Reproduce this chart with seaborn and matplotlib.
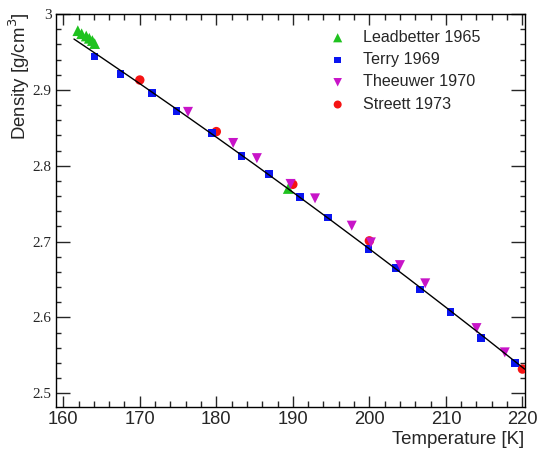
import numpy as np
import pandas as pd
import matplotlib
matplotlib.use("Agg")
import matplotlib.pyplot as plt
import seaborn as sns
from matplotlib.ticker import MultipleLocator, FixedLocator, FixedFormatter

# ---- data ----
lead_T = [161.9, 162.4, 163.0, 163.4, 163.8, 164.1, 189.4]
lead_rho = [2.978, 2.974, 2.971, 2.968, 2.965, 2.961, 2.770]

terry_T = [164.1, 167.5, 171.6, 174.8, 179.4, 183.3, 186.9, 190.9, 194.6,
           199.9, 203.5, 206.6, 210.6, 214.6, 219.0]
terry_rho = [2.944, 2.921, 2.896, 2.872, 2.843, 2.813, 2.789, 2.759, 2.732,
             2.690, 2.665, 2.637, 2.607, 2.573, 2.540]

theeuwer_T = [176.3, 182.2, 185.3, 189.7, 192.9, 197.7, 200.2, 204.0, 207.3,
              214.0, 217.7]
theeuwer_rho = [2.871, 2.830, 2.810, 2.776, 2.757, 2.721, 2.699, 2.669, 2.645,
                2.586, 2.554]

streett_T = [170.0, 180.0, 190.0, 200.0, 220.0]
streett_rho = [2.913, 2.845, 2.7755, 2.701, 2.532]

curve_T = [161.4, 165, 170, 175, 180, 185, 190, 195, 200, 205, 210, 215, 220.3]
curve_rho = [2.967, 2.9426, 2.9082, 2.8732, 2.8377, 2.8017, 2.7651, 2.7280,
             2.6904, 2.6522, 2.6134, 2.5742, 2.5319]

series_labels = ["Leadbetter 1965", "Terry 1969", "Theeuwer 1970", "Streett 1973"]
y_ticks = [2.5, 2.6, 2.7, 2.8, 2.9, 3.0]
y_tick_labels = ["2.5", "2.6", "2.7", "2.8", "2.9", "3"]
x_ticks = [160, 170, 180, 190, 200, 210, 220]

sns.set_style("ticks")
plt.rcParams["font.family"] = ["Liberation Sans", "DejaVu Sans"]

fig = plt.figure(figsize=(5.39, 4.5), dpi=100)
ax = fig.add_axes([56 / 539, 1 - 407.3 / 450, (524.7 - 56) / 539, (407.3 - 14) / 450])

green = "#1fc21f"
blue = "#0a14f0"
magenta = "#c814c8"
red = "#f51414"

sns.scatterplot(x=streett_T, y=streett_rho, marker="o", color=red, s=46,
                edgecolor="none", ax=ax, label=series_labels[3], zorder=3)
sns.scatterplot(x=lead_T, y=lead_rho, marker="^", color=green, s=60,
                edgecolor="none", ax=ax, label=series_labels[0], zorder=3)
sns.scatterplot(x=terry_T, y=terry_rho, marker="s", color=blue, s=30,
                edgecolor="none", ax=ax, label=series_labels[1], zorder=3)
sns.scatterplot(x=theeuwer_T, y=theeuwer_rho, marker="v", color=magenta, s=52,
                edgecolor="none", ax=ax, label=series_labels[2], zorder=3)
sns.lineplot(x=curve_T, y=curve_rho, color="black", lw=1.0, sort=False,
             estimator=None, ax=ax, zorder=4)

ax.set_xlim(159.05, 220.3)
ax.set_ylim(2.4816, 3.0)

ax.xaxis.set_major_locator(FixedLocator(x_ticks))
ax.xaxis.set_minor_locator(MultipleLocator(2))
ax.yaxis.set_major_locator(FixedLocator(y_ticks))
ax.yaxis.set_major_formatter(FixedFormatter(y_tick_labels))
ax.yaxis.set_minor_locator(MultipleLocator(0.02))

ax.tick_params(axis="x", which="major", direction="in", length=8, width=1,
               top=True, bottom=True, labelsize=13.2, pad=3)
ax.tick_params(axis="x", which="minor", direction="in", length=4, width=1,
               top=True, bottom=True)
ax.tick_params(axis="y", which="major", direction="in", length=10, width=1,
               left=True, right=True, labelsize=11, pad=3)
ax.tick_params(axis="y", which="minor", direction="in", length=3.6, width=1,
               left=True, right=True)
for lab in ax.get_yticklabels():
    lab.set_fontfamily(["Liberation Serif", "DejaVu Serif"])
for sp in ax.spines.values():
    sp.set_linewidth(1.0)
    sp.set_color("black")

ax.set_xlabel("")
ax.set_ylabel("")
fig.text(524.7 / 539, 1 - 440 / 450, "Temperature [K]", ha="right", va="center",
         fontsize=13.4)
fig.text(19 / 539, 1 - 12 / 450, "Density [g/cm$^3$]", ha="center", va="top",
         rotation=90, fontsize=13.4)

handles, labels = ax.get_legend_handles_labels()
order = [labels.index(l) for l in series_labels]
leg = ax.legend([handles[i] for i in order], [labels[i] for i in order],
                loc="upper left", bbox_to_anchor=(328 / 539, 1 - 30 / 450),
                bbox_transform=fig.transFigure, frameon=False, fontsize=11.6,
                handlelength=1.2, handletextpad=0.95, labelspacing=0.45,
                borderaxespad=0, borderpad=0, markerscale=0.85)

fig.savefig("out.png", dpi=100)
